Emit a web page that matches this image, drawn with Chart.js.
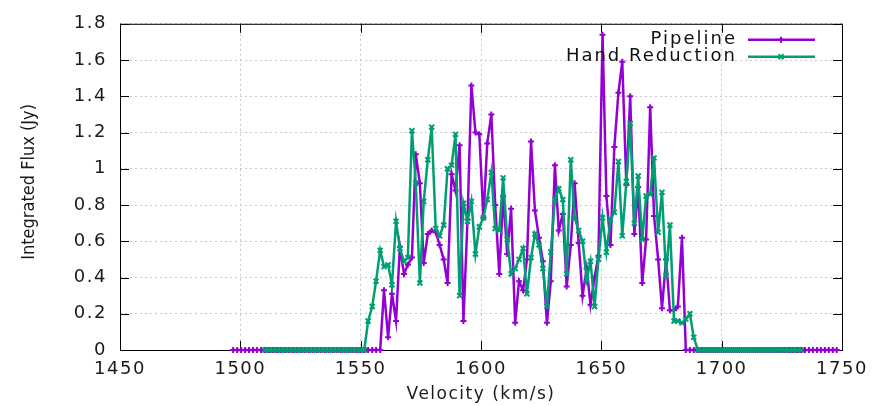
<!DOCTYPE html>
<html>
<head>
<meta charset="utf-8">
<script src="https://cdn.jsdelivr.net/npm/chart.js@4/dist/chart.umd.min.js"></script>
<style>
  html, body { margin: 0; background: #fff; }
  #wrap { width: 877px; height: 406px; position: relative; }
</style>
</head>
<body>
<div id="wrap"><canvas id="spectrum"></canvas></div>
<script>
// velocity channels (km/s), shared by both reductions
const velocity = [
  1497.0, 1498.7, 1500.3, 1502.0, 1503.6, 1505.3, 1506.9, 1508.6, 1510.2, 1511.9,
  1513.5, 1515.2, 1516.8, 1518.5, 1520.1, 1521.8, 1523.4, 1525.1, 1526.7, 1528.4,
  1530.0, 1531.7, 1533.3, 1535.0, 1536.6, 1538.3, 1539.9, 1541.6, 1543.2, 1544.9,
  1546.5, 1548.2, 1549.8, 1551.5, 1553.1, 1554.8, 1556.4, 1558.1, 1559.7, 1561.4,
  1563.0, 1564.7, 1566.3, 1568.0, 1569.6, 1571.3, 1572.9, 1574.6, 1576.2, 1577.9,
  1579.5, 1581.2, 1582.8, 1584.5, 1586.1, 1587.8, 1589.4, 1591.1, 1592.7, 1594.4,
  1596.0, 1597.7, 1599.3, 1601.0, 1602.6, 1604.3, 1605.9, 1607.6, 1609.2, 1610.9,
  1612.5, 1614.2, 1615.8, 1617.5, 1619.1, 1620.8, 1622.4, 1624.1, 1625.7, 1627.4,
  1629.0, 1630.7, 1632.3, 1634.0, 1635.6, 1637.3, 1638.9, 1640.6, 1642.2, 1643.9,
  1645.5, 1647.2, 1648.8, 1650.5, 1652.1, 1653.8, 1655.4, 1657.1, 1658.7, 1660.4,
  1662.0, 1663.7, 1665.3, 1667.0, 1668.6, 1670.3, 1671.9, 1673.6, 1675.2, 1676.9,
  1678.5, 1680.2, 1681.8, 1683.5, 1685.1, 1686.8, 1688.4, 1690.1, 1691.7, 1693.4,
  1695.0, 1696.7, 1698.3, 1700.0, 1701.6, 1703.3, 1704.9, 1706.6, 1708.2, 1709.9,
  1711.5, 1713.2, 1714.8, 1716.5, 1718.1, 1719.8, 1721.4, 1723.1, 1724.7, 1726.4,
  1728.0, 1729.7, 1731.3, 1733.0, 1734.6, 1736.3, 1737.9, 1739.6, 1741.2, 1742.9,
  1744.5, 1746.2, 1747.8
];

// integrated flux (Jy)
const pipelineFlux = [
  0, 0, 0, 0, 0, 0, 0, 0, 0, 0,
  0, 0, 0, 0, 0, 0, 0, 0, 0, 0,
  0, 0, 0, 0, 0, 0, 0, 0, 0, 0,
  0, 0, 0, 0, 0, 0, 0, 0, 0.33, 0.07,
  0.31, 0.16, 0.57, 0.42, 0.47, 0.51, 1.08, 0.92, 0.48, 0.64,
  0.66, 0.65, 0.58, 0.50, 0.37, 0.97, 0.88, 1.13, 0.16, 0.72,
  1.46, 1.20, 1.19, 0.73, 1.14, 1.30, 0.80, 0.42, 0.85, 0.53,
  0.78, 0.15, 0.38, 0.33, 0.50, 1.15, 0.77, 0.62, 0.49, 0.15,
  0.38, 1.02, 0.66, 0.75, 0.35, 0.58, 0.92, 0.59, 0.30, 0.45,
  0.25, 0.40, 0.52, 1.74, 0.85, 0.58, 1.12, 1.42, 1.59, 0.91,
  1.40, 0.64, 0.90, 0.37, 0.61, 1.34, 0.74, 0.50, 0.23, 0.50,
  0.22, 0.22, 0.24, 0.62, 0, 0, 0, 0, 0, 0,
  0, 0, 0, 0, 0, 0, 0, 0, 0, 0,
  0, 0, 0, 0, 0, 0, 0, 0, 0, 0,
  0, 0, 0, 0, 0, 0, 0, 0, 0, 0,
  0, 0, 0
];

const handFlux = [
  null, null, null, null, null, null, null, null, 0, 0,
  0, 0, 0, 0, 0, 0, 0, 0, 0, 0,
  0, 0, 0, 0, 0, 0, 0, 0, 0, 0,
  0, 0, 0, 0, 0.16, 0.24, 0.38, 0.55, 0.46, 0.47,
  0.36, 0.71, 0.56, 0.49, 0.51, 1.21, 0.92, 0.37, 0.82, 1.05,
  1.23, 0.67, 0.63, 0.69, 1.00, 1.02, 1.19, 0.30, 0.81, 0.71,
  0.82, 0.53, 0.68, 0.73, 0.83, 0.98, 0.67, 0.66, 0.95, 0.61,
  0.42, 0.45, 0.50, 0.56, 0.31, 0.51, 0.64, 0.58, 0.45, 0.24,
  0.54, 0.83, 0.89, 0.83, 0.42, 1.05, 0.73, 0.66, 0.60, 0.39,
  0.49, 0.24, 0.50, 0.73, 0.54, 0.72, 0.76, 1.04, 0.63, 0.93,
  1.25, 0.70, 0.96, 0.61, 0.85, 0.86, 1.06, 0.65, 0.87, 0.41,
  0.69, 0.16, 0.16, 0.15, 0.17, 0.20, 0.07, 0, 0, 0,
  0, 0, 0, 0, 0, 0, 0, 0, 0, 0,
  0, 0, 0, 0, 0, 0, 0, 0, 0, 0,
  0, 0, 0, 0, null, null, null, null, null, null,
  null, null, null
];

const seriesNames = ["Pipeline", "Hand Reduction"];
const yTitle = "Integrated Flux (Jy)";

const PURPLE = "#9400d3";
const GREEN = "#009e73";
const FONT = "'DejaVu Sans', sans-serif";

const toPoints = (ys) => velocity.map((v, i) => ({ x: v, y: ys[i] }));

// the reference text is a bit wide, spread the letters a little
const spacingPlugin = {
  id: "spacing",
  beforeDraw(chart) {
    chart.ctx.letterSpacing = "1.5px";
  },
};

// gnuplot-like box with inward ticks on all four sides
const framePlugin = {
  id: "frame",
  beforeDatasetsDraw(chart) {
    const { ctx, chartArea: a, scales } = chart;
    ctx.save();
    ctx.strokeStyle = "#000";
    ctx.lineWidth = 1;
    ctx.strokeRect(a.left + 0.5, a.top + 0.5, a.right - a.left, a.bottom - a.top);
    const len = 9;
    ctx.beginPath();
    scales.x.ticks.forEach((t) => {
      const px = Math.round(scales.x.getPixelForValue(t.value)) + 0.5;
      ctx.moveTo(px, a.bottom); ctx.lineTo(px, a.bottom - len);
      ctx.moveTo(px, a.top); ctx.lineTo(px, a.top + len);
    });
    scales.y.ticks.forEach((t) => {
      const py = Math.round(scales.y.getPixelForValue(t.value)) + 0.5;
      ctx.moveTo(a.left, py); ctx.lineTo(a.left + len, py);
      ctx.moveTo(a.right, py); ctx.lineTo(a.right - len, py);
    });
    ctx.stroke();
    ctx.restore();
  },
};

// legend in the top-right corner + narrow y title (no letter spacing)
const keyPlugin = {
  id: "key",
  afterDraw(chart) {
    const { ctx, chartArea: a } = chart;
    ctx.save();
    ctx.letterSpacing = "0px";
    ctx.font = "18px 'Liberation Sans Narrow', 'DejaVu Sans Condensed', sans-serif";
    ctx.fillStyle = "#1a1a1a";
    ctx.textAlign = "center";
    ctx.textBaseline = "middle";
    ctx.translate(29, (a.top + a.bottom) / 2 - 5);
    ctx.rotate(-Math.PI / 2);
    ctx.fillText(yTitle, 0, 0);
    ctx.restore();

    ctx.save();
    ctx.letterSpacing = "2px";
    ctx.font = "18px " + FONT;
    ctx.textAlign = "right";
    ctx.textBaseline = "middle";
    chart.data.datasets.forEach((ds, i) => {
      const y = a.top + 16 + i * 17;
      const textRight = a.right - 105;
      ctx.fillStyle = "#111";
      ctx.fillText(ds.label, textRight, y);
      ctx.strokeStyle = ds.borderColor;
      ctx.lineWidth = 2.5;
      ctx.beginPath();
      ctx.moveTo(textRight + 11, y);
      ctx.lineTo(textRight + 78, y);
      ctx.stroke();
      ctx.fillStyle = ds.borderColor;
      ctx.lineWidth = 2;
      Chart.helpers.drawPoint(ctx, { pointStyle: ds.pointStyle, radius: ds.pointRadius, rotation: 0, borderWidth: 2 }, textRight + 44, y);
    });
    ctx.restore();
  },
};

new Chart(document.getElementById("spectrum"), {
  type: "line",
  data: {
    datasets: [
      {
        label: seriesNames[0],
        data: toPoints(pipelineFlux),
        borderColor: PURPLE,
        backgroundColor: PURPLE,
        borderWidth: 2.5,
        pointStyle: "cross",
        pointRadius: 3,
        pointBorderWidth: 2,
        tension: 0,
        clip: 6,
        order: 2,
      },
      {
        label: seriesNames[1],
        data: toPoints(handFlux),
        borderColor: GREEN,
        backgroundColor: GREEN,
        borderWidth: 2.5,
        pointStyle: "crossRot",
        pointRadius: 3.5,
        pointBorderWidth: 2,
        tension: 0,
        clip: 6,
        order: 1,
      },
    ],
  },
  options: {
    responsive: true,
    maintainAspectRatio: false,
    animation: false,
    layout: { padding: { left: 0, right: 35, top: 17, bottom: 0 } },
    plugins: {
      legend: { display: false },
      tooltip: { enabled: false },
    },
    scales: {
      x: {
        type: "linear",
        min: 1450,
        max: 1750,
        ticks: {
          stepSize: 50,
          padding: 9,
          color: "#1a1a1a",
          font: { family: FONT, size: 18 },
          maxRotation: 0,
          callback: (v) => String(v),
        },
        grid: { color: "#c8c8c8", lineWidth: 1, drawTicks: false },
        border: { display: false, dash: [2, 3] },
        title: {
          display: true,
          text: "Velocity (km/s)",
          color: "#1a1a1a",
          font: { family: FONT, size: 17 },
          padding: { top: 4, bottom: 1 },
        },
        afterFit: (s) => { s.height = 56; },
      },
      y: {
        min: 0,
        max: 1.8,
        ticks: {
          stepSize: 0.2,
          padding: 13,
          color: "#1a1a1a",
          font: { family: FONT, size: 18 },
          callback: (v) => String(Number(v.toFixed(1))),
        },
        grid: { color: "#c8c8c8", lineWidth: 1, drawTicks: false },
        border: { display: false, dash: [2, 3] },
        title: { display: false },
        afterFit: (s) => { s.width = 120; },
      },
    },
  },
  plugins: [spacingPlugin, framePlugin, keyPlugin],
});
</script>
</body>
</html>
